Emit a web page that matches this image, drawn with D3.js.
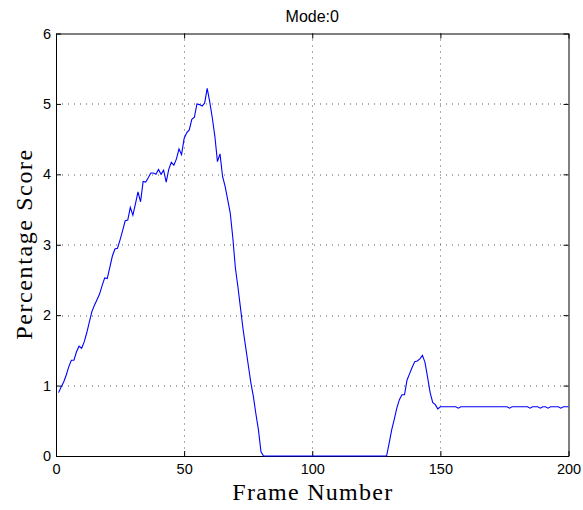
<!DOCTYPE html>
<html>
<head>
<meta charset="utf-8">
<script src="https://cdn.jsdelivr.net/npm/d3@7"></script>
<style>
  body { margin: 0; background: #fff; }
  .tick text { font-family: "Liberation Sans", Arial, sans-serif; font-size: 14.5px; fill: #000; }
</style>
</head>
<body>
<svg id="chart" width="583" height="510"></svg>
<script>
const title = 'Mode:0'
const xLabel = 'Frame Number'
const yLabel = 'Percentage Score'
const xTicks = [0, 50, 100, 150, 200]
const yTicks = [0, 1, 2, 3, 4, 5, 6]

// score per frame, frames 1..80
const scoreRise = [
  0.90, 0.98, 1.05, 1.15, 1.27, 1.36, 1.36, 1.48, 1.56, 1.53,
  1.62, 1.75, 1.90, 2.05, 2.14, 2.22, 2.30, 2.42, 2.53, 2.52,
  2.68, 2.84, 2.94, 2.95, 3.07, 3.20, 3.34, 3.35, 3.53, 3.42,
  3.58, 3.75, 3.61, 3.90, 3.89, 3.95, 4.02, 4.02, 4.00, 4.07,
  4.00, 4.06, 3.89, 4.07, 4.17, 4.13, 4.22, 4.36, 4.28, 4.51,
  4.59, 4.63, 4.78, 4.81, 5.00, 4.99, 4.97, 5.01, 5.22, 5.03,
  4.80, 4.54, 4.18, 4.29, 3.97, 3.83, 3.64, 3.45, 3.10, 2.67,
  2.40, 2.10, 1.80, 1.55, 1.30, 1.05, 0.85, 0.60, 0.37, 0.06
]
// frames 81..129
const scoreZero = [
  0, 0, 0, 0, 0, 0, 0, 0, 0, 0,
  0, 0, 0, 0, 0, 0, 0, 0, 0, 0,
  0, 0, 0, 0, 0, 0, 0, 0, 0, 0,
  0, 0, 0, 0, 0, 0, 0, 0, 0, 0,
  0, 0, 0, 0, 0, 0, 0, 0, 0
]
// frames 130..150
const scoreBump = [
  0.18, 0.37, 0.52, 0.68, 0.80, 0.87, 0.87, 1.08, 1.17, 1.26,
  1.34, 1.35, 1.38, 1.43, 1.33, 1.12, 0.90, 0.76, 0.73, 0.67,
  0.70
]
// frames 151..200
const scoreTail = [
  0.70, 0.70, 0.70, 0.70, 0.70, 0.70, 0.68, 0.70, 0.70, 0.70,
  0.70, 0.70, 0.70, 0.70, 0.70, 0.70, 0.70, 0.70, 0.70, 0.70,
  0.70, 0.70, 0.70, 0.70, 0.70, 0.70, 0.68, 0.70, 0.70, 0.70,
  0.70, 0.70, 0.70, 0.70, 0.68, 0.70, 0.70, 0.70, 0.68, 0.70,
  0.70, 0.68, 0.70, 0.70, 0.70, 0.70, 0.68, 0.70, 0.70, 0.70
]

const scores = [...scoreRise, ...scoreZero, ...scoreBump, ...scoreTail]
const data = scores.map((v, i) => ({frame: i + 1, value: v}))

const svg = d3.select('#chart')
const margins = {top: 33.5, right: 14.5, bottom: 54, left: 56}
const width = 583 - margins.left - margins.right
const height = 510 - margins.top - margins.bottom

const g = svg.append('g')
  .attr('transform', `translate(${margins.left}, ${margins.top})`)

const x = d3.scaleLinear().domain([0, 200]).range([0, width])
const y = d3.scaleLinear().domain([0, 6]).range([height, 0])

// dotted grid
const grid = g.append('g').attr('class', 'grid')
grid.selectAll('.vgrid')
  .data(xTicks.slice(1, -1))
  .enter().append('line')
  .attr('x1', (d) => Math.round(x(d)) + 0.5).attr('x2', (d) => Math.round(x(d)) + 0.5)
  .attr('y1', 0).attr('y2', height)
grid.selectAll('.hgrid')
  .data(yTicks.slice(1, -1))
  .enter().append('line')
  .attr('y1', (d) => Math.round(y(d)) + 0.5).attr('y2', (d) => Math.round(y(d)) + 0.5)
  .attr('x1', 0).attr('x2', width)
grid.selectAll('line')
  .attr('stroke', '#555')
  .attr('stroke-width', 1)
  .attr('stroke-dasharray', '1,5')

// axes with inward ticks, box on
g.append('g')
  .attr('transform', `translate(0, ${height})`)
  .call(d3.axisBottom(x).tickValues(xTicks).tickFormat(d3.format('d'))
    .tickSizeInner(-5).tickSizeOuter(0).tickPadding(8))
g.append('g')
  .call(d3.axisLeft(y).tickValues(yTicks).tickFormat(d3.format('d'))
    .tickSizeInner(-5).tickSizeOuter(0).tickPadding(5))
g.append('g')
  .call(d3.axisTop(x).tickValues(xTicks).tickSizeInner(-5).tickSizeOuter(0).tickFormat(''))
g.append('g')
  .attr('transform', `translate(${width}, 0)`)
  .call(d3.axisRight(y).tickValues(yTicks).tickSizeInner(-5).tickSizeOuter(0).tickFormat(''))
g.selectAll('.domain').attr('stroke', '#000')
g.selectAll('.tick line').attr('stroke', '#000')

const line = d3.line()
  .x((d) => x(d.frame))
  .y((d) => y(d.value))

g.append('path')
  .datum(data)
  .attr('fill', 'none')
  .attr('stroke', '#0000ff')
  .attr('stroke-width', 1.1)
  .attr('d', line)

// titles
svg.append('text')
  .attr('x', margins.left + width / 2)
  .attr('y', 22)
  .attr('text-anchor', 'middle')
  .style('font-family', '"Liberation Sans", Arial, sans-serif')
  .style('font-size', '16px')
  .text(title)

svg.append('text')
  .attr('x', margins.left + width / 2)
  .attr('y', 500)
  .attr('text-anchor', 'middle')
  .attr('textLength', 160)
  .style('font-family', '"Liberation Serif", "Times New Roman", serif')
  .style('font-size', '24px')
  .text(xLabel)

svg.append('text')
  .attr('transform', `translate(32, ${margins.top + height / 2}) rotate(-90)`)
  .attr('text-anchor', 'middle')
  .attr('textLength', 190)
  .style('font-family', '"Liberation Serif", "Times New Roman", serif')
  .style('font-size', '24px')
  .text(yLabel)
</script>
</body>
</html>
